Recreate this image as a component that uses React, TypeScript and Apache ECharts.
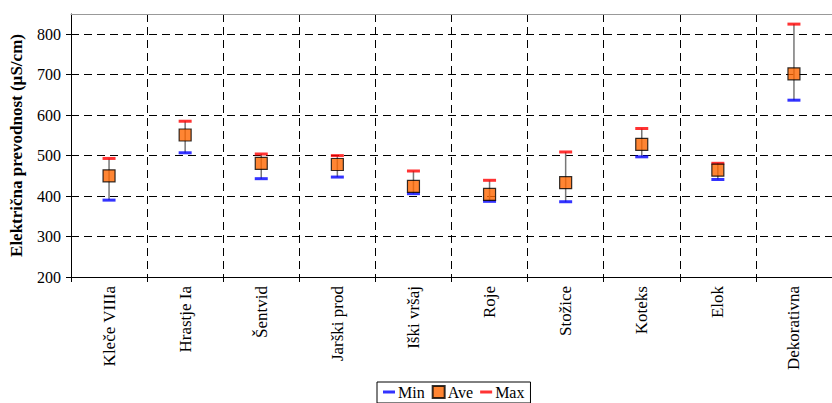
import React, { useEffect, useRef } from "react";
import * as echarts from "echarts";

// Electrical conductivity per sampling site: minimum, average, maximum (µS/cm)
const categories = [
  "Kleče VIIIa",
  "Hrastje Ia",
  "Šentvid",
  "Jarški prod",
  "Iški vršaj",
  "Roje",
  "Stožice",
  "Koteks",
  "Elok",
  "Dekorativna",
];
const minValues = [390, 507, 443, 447, 406, 387, 386, 497, 441, 637];
const aveValues = [450, 551, 481, 478, 424, 404, 433, 528, 464, 702];
const maxValues = [493, 585, 504, 500, 462, 439, 509, 567, 481, 825];
const yTicks = [200, 300, 400, 500, 600, 700, 800];

const FONT = "'Liberation Serif', 'Times New Roman', serif";
const DASH_ICON = "path://M0,0h12v3h-12z";

export default function App() {
  const ref = useRef<HTMLDivElement>(null);

  useEffect(() => {
    if (!ref.current) return;
    const chart = echarts.init(ref.current, null, { renderer: "svg" });

    const whiskers = categories.map((_, i) => [i, minValues[i], maxValues[i]]);

    chart.setOption({
      animation: false,
      backgroundColor: "#fff",
      textStyle: { fontFamily: FONT },
      grid: { left: 69, top: 14, width: 768, height: 263 },
      legend: {
        left: 377,
        top: 382,
        padding: [2, 6, 3, 6],
        itemGap: 7,
        itemWidth: 12,
        itemHeight: 12,
        symbolKeepAspect: true,
        borderColor: "#000",
        borderWidth: 1,
        textStyle: { fontFamily: FONT, fontSize: 16, color: "#000", padding: [0, 0, 0, -2] },
        data: [
          { name: "Min", icon: DASH_ICON },
          { name: "Ave", icon: "rect" },
          { name: "Max", icon: DASH_ICON },
        ],
      },
      xAxis: [
        {
          type: "category",
          data: categories,
          boundaryGap: true,
          axisLine: { lineStyle: { color: "#000", width: 1 } },
          axisTick: { show: true, length: 5, lineStyle: { color: "#000" } },
          axisLabel: {
            rotate: 90,
            interval: 0,
            margin: 9,
            fontFamily: FONT,
            fontSize: 17,
            color: "#000",
          },
          splitLine: {
            show: true,
            interval: 0,
            lineStyle: { color: "#000", width: 1, type: [8, 5] },
          },
        },
        {
          type: "category",
          data: categories,
          position: "top",
          axisLine: { lineStyle: { color: "#999", width: 1 } },
          axisTick: { show: false },
          axisLabel: { show: false },
          splitLine: { show: false },
        },
      ],
      yAxis: {
        type: "value",
        min: 200,
        max: 850,
        interval: 100,
        name: "Električna prevodnost (µS/cm)",
        nameLocation: "middle",
        nameGap: 46,
        nameTextStyle: { fontFamily: FONT, fontSize: 17, fontWeight: "bold", color: "#000" },
        axisLine: { show: true, lineStyle: { color: "#000", width: 1 } },
        axisTick: { show: true, length: 5, customValues: yTicks, lineStyle: { color: "#000" } },
        axisLabel: {
          customValues: yTicks,
          margin: 10,
          fontFamily: FONT,
          fontSize: 16,
          color: "#000",
        },
        splitLine: { show: true, lineStyle: { color: "#000", width: 1, type: [8, 5] } },
      },
      series: [
        {
          name: "range",
          type: "custom",
          z: 1,
          data: whiskers,
          renderItem: (params: any, api: any) => {
            const x = api.value(0);
            const lo = api.coord([x, api.value(1)]);
            const hi = api.coord([x, api.value(2)]);
            return {
              type: "line",
              shape: { x1: lo[0], y1: lo[1], x2: hi[0], y2: hi[1] },
              style: { stroke: "#777", lineWidth: 1.5 },
            };
          },
        },
        {
          name: "Min",
          type: "scatter",
          z: 2,
          data: minValues,
          symbol: "rect",
          symbolSize: [13, 3],
          itemStyle: { color: "#0000FF" },
        },
        {
          name: "Max",
          type: "scatter",
          z: 2,
          data: maxValues,
          symbol: "rect",
          symbolSize: [13, 3],
          itemStyle: { color: "#FF0000" },
        },
        {
          name: "Ave",
          type: "scatter",
          z: 3,
          data: aveValues,
          symbol: "rect",
          symbolSize: 12,
          itemStyle: { color: "#FF6600", borderColor: "#000", borderWidth: 1.2 },
        },
      ],
    });

    return () => chart.dispose();
  }, []);

  return (
    <div
      ref={ref}
      style={{ position: "fixed", left: 0, top: 0, width: 832, height: 403, overflow: "hidden" }}
    />
  );
}
